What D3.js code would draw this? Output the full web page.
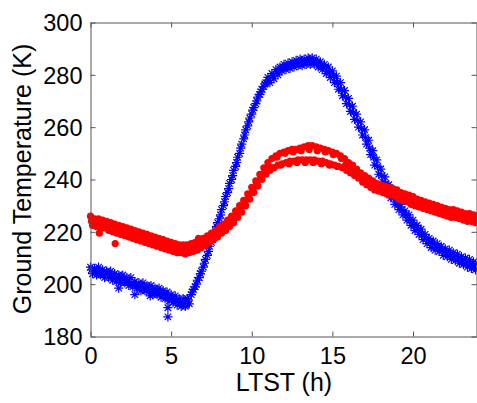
<!DOCTYPE html>
<html>
<head>
<meta charset="utf-8">
<script src="https://cdn.jsdelivr.net/npm/d3@7"></script>
<style>
html,body{margin:0;padding:0;background:#fff;}
svg{display:block;}
text{font-family:"Liberation Sans",Arial,Helvetica,sans-serif;fill:#000;}
</style>
</head>
<body>
<script>
// ---- data ----
const hoursA = [0,0.25,0.5,0.75,1,1.25,1.5,1.75,2,2.25,2.5,2.75,3,3.25,3.5,3.75,4,4.25,4.5,4.75,5,5.25,5.5,5.75,6,6.25,6.5,6.75,7,7.25,7.5,7.75,8,8.25,8.5,8.75,9,9.25,9.5,9.75,10,10.25,10.5,10.75,11,11.25,11.5,11.75,12,12.25,12.5,12.75,13,13.25,13.5,13.75,14,14.25,14.5,14.75,15,15.25,15.5,15.75,16,16.25,16.5,16.75,17,17.25,17.5,17.75,18,18.25,18.5,18.75,19,19.25,19.5,19.75,20,20.25,20.5,20.75,21,21.25,21.5,21.75,22,22.25,22.5,22.75,23,23.25,23.5,23.75,24];
const hoursB = [0.125,0.375,0.625,0.875,1.125,1.375,1.625,1.875,2.125,2.375,2.625,2.875,3.125,3.375,3.625,3.875,4.125,4.375,4.625,4.875,5.125,5.375,5.625,5.875,6.125,6.375,6.625,6.875,7.125,7.375,7.625,7.875,8.125,8.375,8.625,8.875,9.125,9.375,9.625,9.875,10.125,10.375,10.625,10.875,11.125,11.375,11.625,11.875,12.125,12.375,12.625,12.875,13.125,13.375,13.625,13.875,14.125,14.375,14.625,14.875,15.125,15.375,15.625,15.875,16.125,16.375,16.625,16.875,17.125,17.375,17.625,17.875,18.125,18.375,18.625,18.875,19.125,19.375,19.625,19.875,20.125,20.375,20.625,20.875,21.125,21.375,21.625,21.875,22.125,22.375,22.625,22.875,23.125,23.375,23.625,23.875];
const hoursC = [0.0625,0.3125,0.5625,0.8125,1.0625,1.3125,1.5625,1.8125,2.0625,2.3125,2.5625,2.8125,3.0625,3.3125,3.5625,3.8125,4.0625,4.3125,4.5625,4.8125,5.0625,5.3125,5.5625,5.8125,6.0625,6.3125,6.5625,6.8125,7.0625,7.3125,7.5625,7.8125,8.0625,8.3125,8.5625,8.8125,9.0625,9.3125,9.5625,9.8125,10.0625,10.3125,10.5625,10.8125,11.0625,11.3125,11.5625,11.8125,12.0625,12.3125,12.5625,12.8125,13.0625,13.3125,13.5625,13.8125,14.0625,14.3125,14.5625,14.8125,15.0625,15.3125,15.5625,15.8125,16.0625,16.3125,16.5625,16.8125,17.0625,17.3125,17.5625,17.8125,18.0625,18.3125,18.5625,18.8125,19.0625,19.3125,19.5625,19.8125,20.0625,20.3125,20.5625,20.8125,21.0625,21.3125,21.5625,21.8125,22.0625,22.3125,22.5625,22.8125,23.0625,23.3125,23.5625,23.8125];

const blueTempsA = [206.5,206,206.5,205.5,205,205,204,203.5,203.5,202.5,202.5,201,200.5,200.5,199.5,199.5,198.5,198.5,197.5,197,196,195.5,194.5,194.5,194.5,196,199,202.5,206.5,211,216,220.5,225,230,235,240,245,250,255.5,260.5,265,269,272.5,275.5,279,280.5,282,283,284,284.5,285,285.5,286,286,286.5,286.5,286,285,284,283,281.5,279.5,277,274,271,268,265,262,259,255,251,247.5,244,241,238,235,232.5,230.5,228,226.5,224.5,222.5,221,219,217.5,216.5,215.5,214.5,213.5,213,212,211.5,210.5,210,209.5,208.5,208];
const blueTempsB = [204,203.5,203.5,202.5,202.5,201.5,201,200.5,200.5,199.5,199,198.5,197.5,197.5,197,196,196,195,194.5,193.5,193,192,191.5,191.5,192.5,198,201.5,205,209.5,214.5,219,223.5,228.5,233.5,238.5,243.5,248.5,253.5,259,263.5,267.5,271.5,274.5,277,277,278.5,280,281.5,282,282.5,283,283.5,283.5,284,284,284,283,282,280.5,279,277,274.5,272,269,266,263,260,257,253.5,249.5,245.5,242,239,236,233,230.5,228.5,226.5,224.5,222.5,220.5,219,217,215.5,214,213,212.5,211,210.5,209.5,209,208,207.5,206.5,206,205.5];
const blueTempsC = [205.5,204.5,205,203.5,204,203,202.5,201.5,202,201,200.5,199.5,199,198.5,198,197.5,197,196.5,196,195,194.5,193.5,193,192.5,194,197,200,204,208,212.5,217.5,222,226.5,231.5,236.5,241.5,246.5,252,257,262,266.5,270,273.5,276.5,278,279.5,281,282,283,283.5,284,284.5,285,285,285.5,285,284.5,283.5,282.5,281,279.5,277,274.5,271.5,268.5,265.5,262.5,259.5,256,252,248.5,245,241.5,238.5,235.5,233,230.5,228.5,226.5,224.5,222.5,221,219,217.5,216,215,214,213,212,211.5,210.5,210,209,208.5,207.5,207];
const blueOutHours = [1.75,2.75,3.7,4.8,4.8,5.9];
const blueOutTemps = [198.5,196,195.5,191,187.5,192];

const redTempsA = [226,225,225,224.5,224,223.5,223,222.5,222,221.5,221,220.5,220,219.5,219,218.5,218,217.5,217,216.5,216,215.5,215,215,215,215.5,216,216.5,217.5,218.5,219.5,220.5,222,223,224.5,226,228,230,232,234.5,237,239.5,242,244.5,246.5,248,249,250,250.5,251,251.5,251.5,252,252.5,253,253,252.5,252,251.5,251,250.5,250,249,248,246.5,245.5,244,242.5,241.5,240.5,239.5,238.5,238,237.5,237,236.5,236,235,234.5,234,233.5,232.5,232,231.5,231,230.5,230,229.5,229,228.5,228.5,228,227.5,227,227,226.5,226];
const redTempsB = [222.5,222,221.5,221.5,220.5,220,219.5,219,218.5,218,217.5,217,216.5,216,215.5,215,214.5,214,213.5,213,212.5,212,212,211.5,212,212.5,213,214,215,216,217,218,219.5,220.5,222,223.5,225.5,227.5,230,232.5,235,237.5,240,242,243.5,244.5,245.5,246,246.5,247,247,247.5,247.5,247.5,247.5,247.5,247,247,246.5,246,245.5,245,244.5,243.5,242.5,241.5,240.5,239,238,237,236,235.5,235,234.5,234,233.5,232.5,232,231.5,230.5,230,229.5,229,228.5,228,227.5,227,226.5,226,225.5,225.5,225,224.5,224,224,223.5];
const redTempsC = [224,223.5,223,223,222,222,221,221,220,220,219,218.5,218,218,217,217,216,216,215,215,214,214,213.5,213,213.5,214,214.5,215,216,217,218,219,221,222,223,225,227,229,231,233.5,236,238.5,241,243,245,244.5,248.5,245.5,250,246,250.5,246.5,251,246.5,251.5,246.5,251,246,250.5,245.5,249.5,245,248,245.5,244.5,243.5,242,241,239.5,238.5,237.5,237,236.5,236,235.5,235,234,233.5,233,232,231.5,231,230.5,230,229.5,229,228.5,228,227.5,227,227,226.5,226,225.5,225.5,225];
const redOutHours = [0.55,1.53,6.7];
const redOutTemps = [219.5,215.5,217.5];

const xTicks = [0,5,10,15,20];
const yTicks = [180,200,220,240,260,280,300];
const xLabel = "LTST (h)";
const yLabel = "Ground Temperature (K)";

// ---- drawing ----
const W = 477, H = 403;
const L = 90.5, R = 477.5, T = 22.5, B = 336.5;

const svg = d3.select("body").append("svg").attr("width", W).attr("height", H);

const x = d3.scaleLinear().domain([0, 24]).range([L, R]);
const y = d3.scaleLinear().domain([180, 300]).range([B, T]);

const axisColor = "#555";
const tickFont = "23.5px";

function styleAxis(g) {
  g.selectAll("path.domain").attr("stroke", axisColor).attr("stroke-width", 1);
  g.selectAll(".tick line").attr("stroke", axisColor).attr("stroke-width", 1);
  g.selectAll(".tick text").style("font-size", tickFont).attr("fill", "#000")
    .style("font-family", "'Liberation Sans', Arial, sans-serif");
}

const plot = svg.append("g");

function pts(hours, temps) { return hours.map((h, i) => [h, temps[i]]); }

const blueData = pts(hoursA, blueTempsA).concat(pts(hoursC, blueTempsC), pts(hoursB, blueTempsB), pts(blueOutHours, blueOutTemps));
const redData = pts(hoursA, redTempsA).concat(pts(hoursC, redTempsC), pts(hoursB, redTempsB), pts(redOutHours, redOutTemps));

const r = 4.6, a = r * 0.7071;
const star = `M${-r},0L${r},0M0,${-r}L0,${r}M${-a},${-a}L${a},${a}M${-a},${a}L${a},${-a}`;

plot.append("g").selectAll("path").data(blueData).join("path")
  .attr("transform", d => `translate(${x(d[0])},${y(d[1])})`)
  .attr("d", star)
  .attr("fill", "none")
  .attr("stroke", "#0000ff")
  .attr("stroke-width", 1.2);

plot.append("g").selectAll("circle").data(redData).join("circle")
  .attr("cx", d => x(d[0]))
  .attr("cy", d => y(d[1]))
  .attr("r", 3.6)
  .attr("fill", "#ff0000");

// axes
const gx = svg.append("g").attr("transform", `translate(0,${B})`)
  .call(d3.axisBottom(x).tickValues(xTicks).tickSizeInner(-5).tickSizeOuter(0).tickPadding(11).tickFormat(d3.format("d")));
styleAxis(gx);

const gy = svg.append("g").attr("transform", `translate(${L},0)`)
  .call(d3.axisLeft(y).tickValues(yTicks).tickSizeInner(-5).tickSizeOuter(0).tickPadding(8).tickFormat(d3.format("d")));
styleAxis(gy);
gy.selectAll(".tick text").attr("dy", "0.35em");

const gt = svg.append("g").attr("transform", `translate(0,${T})`)
  .call(d3.axisTop(x).tickValues(xTicks).tickSizeInner(-5).tickSizeOuter(0).tickFormat(""));
styleAxis(gt);

const gr = svg.append("g").attr("transform", `translate(${R - 1},0)`)
  .call(d3.axisRight(y).tickValues(yTicks).tickSizeInner(-5).tickSizeOuter(0).tickFormat(""));
styleAxis(gr);

// axis titles
svg.append("text")
  .attr("x", 284).attr("y", 391)
  .attr("text-anchor", "middle")
  .style("font-size", "25px")
  .text(xLabel);

svg.append("text")
  .attr("transform", `translate(31,179) rotate(-90)`)
  .attr("text-anchor", "middle")
  .style("font-size", "25px")
  .text(yLabel);
</script>
</body>
</html>
